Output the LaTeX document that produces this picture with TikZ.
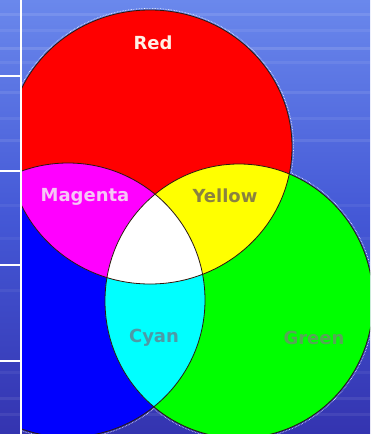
\documentclass[tikz,border=0pt]{standalone}
\usepackage{fontspec}
\setmainfont{DejaVu Sans}
\begin{document}
\begin{tikzpicture}[x=1pt,y=-1pt,
  lbl/.style={font=\fontsize{18}{20}\selectfont\bfseries,inner sep=0pt},
  rim/.style={draw=rimc,line width=0.8pt},
  halo/.style={draw=white,densely dotted,line width=0.6pt}]
\definecolor{bgtop}{HTML}{6A88EC}
\definecolor{bgmid}{HTML}{4458D6}
\definecolor{bgbot}{HTML}{3434B0}
\definecolor{rimc}{HTML}{2A1A10}
\definecolor{pr}{HTML}{FF0000}
\definecolor{pg}{HTML}{00FF00}
\definecolor{pb}{HTML}{0000FF}
\definecolor{pm}{HTML}{FF00FF}
\definecolor{py}{HTML}{FFFF00}
\definecolor{pc}{HTML}{00FFFF}
\definecolor{pw}{HTML}{FFFFFF}
\definecolor{tred}{HTML}{FFF0E6}
\definecolor{tmag}{HTML}{F6C6F6}
\definecolor{tyel}{HTML}{8A8240}
\definecolor{tcya}{HTML}{4E9AA6}
\definecolor{tgre}{HTML}{56A656}
\useasboundingbox (0,0) rectangle (370,434);
% background
\shade[top color=bgtop,bottom color=bgbot,middle color=bgmid] (0,0) rectangle (370,434);
\foreach \yy/\op in {14/0.1,30/0.07,48/0.12,62/0.07,92/0.09,118/0.07,140/0.09,205/0.06,238/0.05,290/0.05,372/0.06,398/0.08,414/0.07}{
  \draw[white,opacity=\op,line width=3pt] (0,\yy) -- (370,\yy);
}
\coordinate (R) at (150,147);
\coordinate (B) at (68,300);
\coordinate (G) at (239,301);
\def\redshape{(R) ellipse[x radius=142,y radius=137]}
\def\redhalo{(R) ellipse[x radius=143.6,y radius=138.6]}
\def\greenshape{(G) ellipse[x radius=134,y radius=137]}
\def\greenhalo{(G) ellipse[x radius=135.6,y radius=138.6]}
\begin{scope}
\clip (21,0) rectangle (370,434);
% outer halo
\draw[halo] \redhalo;
\draw[halo] (B) circle[radius=138.6];
\draw[halo] \greenhalo;
% base fills
\fill[pb] (B) circle[radius=137];
\fill[pg] \greenshape;
\begin{scope}
\clip (B) circle[radius=137];
\fill[pc] \greenshape;
\end{scope}
\fill[pr] \redshape;
\begin{scope}
\clip \redshape;
\fill[pm] (B) circle[radius=137];
\fill[py] \greenshape;
\clip (B) circle[radius=137];
\fill[pw] \greenshape;
\end{scope}
\draw[rim] \redshape;
\draw[rim] (B) circle[radius=137];
\draw[rim] \greenshape;
\end{scope}
% left strip
\draw[white,line width=1.6pt] (21,0) -- (21,434);
\foreach \yy in {76,171,265,361}{
  \draw[white,line width=1.6pt] (0,\yy) -- (21,\yy);
}
% labels
\node[lbl,text=tred] (lr) at (153,43) {Red};
\node[lbl,text=tmag] (lm) at (85,197) {Magenta};
\node[lbl,text=tyel] (ly) at (225,196) {Yellow};
\node[lbl,text=tcya] (lc) at (154,338) {Cyan};
\node[lbl,text=tgre] (lg) at (314,338) {Green};
\end{tikzpicture}
\end{document}
